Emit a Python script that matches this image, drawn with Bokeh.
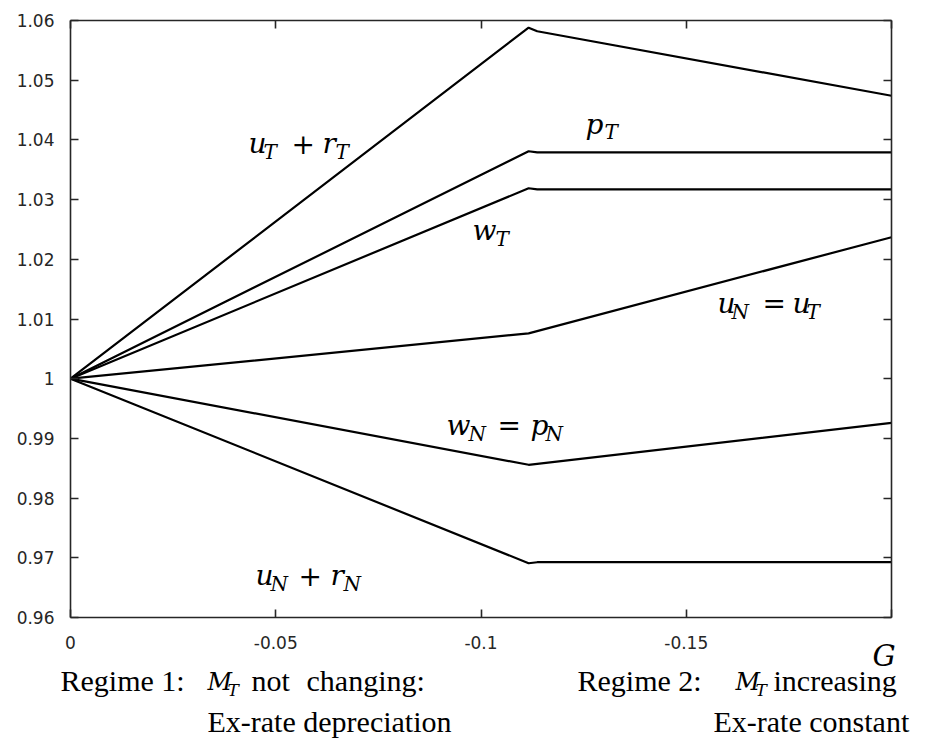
from bokeh.plotting import figure
from bokeh.models import Range1d, FixedTicker, LinearAxis
from bokeh.core.properties import value
from bokeh.embed import file_html
from bokeh.resources import INLINE

# ---- data ----
G_kink = [0.0, -0.1116, -0.1137, -0.2]
G_plain = [0.0, -0.1116, -0.2]

uT_plus_rT = [1.0, 1.0588, 1.0582, 1.0474]
pT = [1.0, 1.0381, 1.0379, 1.0379]
wT = [1.0, 1.0319, 1.0317, 1.0317]
uN_eq_uT = [1.0, 1.0076, 1.0237]
wN_eq_pN = [1.0, 0.98558, 0.99261]
uN_plus_rN = [1.0, 0.96909, 0.96926, 0.96926]

y_ticks = [0.96, 0.97, 0.98, 0.99, 1.0, 1.01, 1.02, 1.03, 1.04, 1.05, 1.06]
y_tick_labels = ["0.96", "0.97", "0.98", "0.99", "1", "1.01", "1.02", "1.03", "1.04", "1.05", "1.06"]
x_ticks = [0.0, -0.05, -0.1, -0.15, -0.2]
x_tick_labels = ["0", "-0.05", "-0.1", "-0.15", ""]

X0, X1 = 0.0, -0.2
Y0, Y1 = 0.96, 1.06

# ---- layout (pixels) ----
W, H = 921, 738
BOX_L, BOX_R, BOX_T, BOX_B = 70, 891, 20, 617
dx_px = (X1 - X0) / (BOX_R - BOX_L)
dy_px = (Y1 - Y0) / (BOX_B - BOX_T)

def px_x(px):
    return X0 + (px - BOX_L) * dx_px

def px_y(py):
    return Y1 - (py - BOX_T) * dy_px

AX = "#262626"
MATH = "DejaVu Serif"
SERIF = "Liberation Serif"

p = figure(width=W, height=H, output_backend="svg", toolbar_location=None,
           x_range=Range1d(px_x(0), px_x(W)), y_range=Range1d(px_y(H), px_y(0)),
           min_border=0, x_axis_location=None, y_axis_location=None)
p.grid.visible = False
p.outline_line_color = None
p.background_fill_color = "white"
p.border_fill_color = "white"

def make_axis(ticks, labels, loc, bounds, show_labels, standoff):
    ax = LinearAxis(ticker=FixedTicker(ticks=ticks), fixed_location=loc, bounds=bounds,
                    major_label_overrides={t: (l if show_labels else "") for t, l in zip(ticks, labels)})
    ax.axis_line_color = AX
    ax.axis_line_width = 1.6
    ax.major_tick_in = 8
    ax.major_tick_out = 0
    ax.major_tick_line_color = AX
    ax.major_tick_line_width = 1.6
    ax.minor_tick_line_color = None
    ax.major_label_text_font = "DejaVu Sans"
    ax.major_label_text_font_size = "17px"
    ax.major_label_text_color = AX
    ax.major_label_standoff = standoff
    return ax

p.add_layout(make_axis(x_ticks, x_tick_labels, Y0, (X1, X0), True, 18), "below")
p.add_layout(make_axis(x_ticks, x_tick_labels, Y1, (X1, X0), False, 4), "above")
p.add_layout(make_axis(y_ticks, y_tick_labels, X0, (Y0, Y1), True, 16), "left")
p.add_layout(make_axis(y_ticks, y_tick_labels, X1, (Y0, Y1), False, 4), "right")

lw = 2.2
p.line(G_kink, uT_plus_rT, line_color="black", line_width=lw)
p.line(G_kink, pT, line_color="black", line_width=lw)
p.line(G_kink, wT, line_color="black", line_width=lw)
p.line(G_plain, uN_eq_uT, line_color="black", line_width=lw)
p.line(G_plain, wN_eq_pN, line_color="black", line_width=lw)
p.line(G_kink, uN_plus_rN, line_color="black", line_width=lw)

MAIN, SUB = 28, 20

def put(txt, lx, by, size, style, font=MATH):
    # by = wanted baseline in pixels; the renderer sets the text ~0.34 em lower
    p.text(x=[px_x(lx)], y=[px_y(by - 0.34 * size)], text=[txt], text_font=value(font),
           text_font_size=value(f"{size}px"), text_font_style=style, text_color="black",
           text_align="left", text_baseline="alphabetic")

def math(pieces):
    for txt, lx, by, kind in pieces:
        if kind == "m":
            put(txt, lx, by, MAIN, "italic")
        elif kind == "s":
            put(txt, lx, by, SUB, "italic")
        else:
            put(txt, lx, by, MAIN, "normal")

# curve labels: (text, left px, baseline px, kind)
math([("u", 248, 153, "m"), ("T", 263, 158, "s"), ("+", 291, 153, "o"),
      ("r", 322, 153, "m"), ("T", 335, 158, "s")])
math([("p", 585, 134, "m"), ("T", 604, 138, "s")])
math([("w", 472, 240, "m"), ("T", 495, 245, "s")])
math([("u", 717, 313, "m"), ("N", 731, 318, "s"), ("=", 762, 313, "o"),
      ("u", 792, 313, "m"), ("T", 806, 318, "s")])
math([("w", 446, 435, "m"), ("N", 468, 440, "s"), ("=", 497, 435, "o"),
      ("p", 530, 435, "m"), ("N", 545, 440, "s")])
math([("u", 255, 585, "m"), ("N", 270, 590, "s"), ("+", 298, 585, "o"),
      ("r", 330, 585, "m"), ("N", 343, 590, "s")])

# axis name
put("G", 872, 665, 29, "italic")

# regime captions
CAP = 30
put("Regime 1:", 60, 690, CAP, "normal", SERIF)
put("M", 207, 690, 24, "italic")
put("T", 227, 695, 17, "italic")
put("not", 251, 690, CAP, "normal", SERIF)
put("changing:", 306, 690, CAP, "normal", SERIF)
put("Ex-rate depreciation", 207, 731, CAP, "normal", SERIF)
put("Regime 2:", 577, 690, CAP, "normal", SERIF)
put("M", 735, 690, 24, "italic")
put("T", 755, 695, 17, "italic")
put("increasing", 773, 690, CAP, "normal", SERIF)
put("Ex-rate constant", 713, 731, CAP, "normal", SERIF)

open("out.html", "w").write(file_html(p, INLINE))
